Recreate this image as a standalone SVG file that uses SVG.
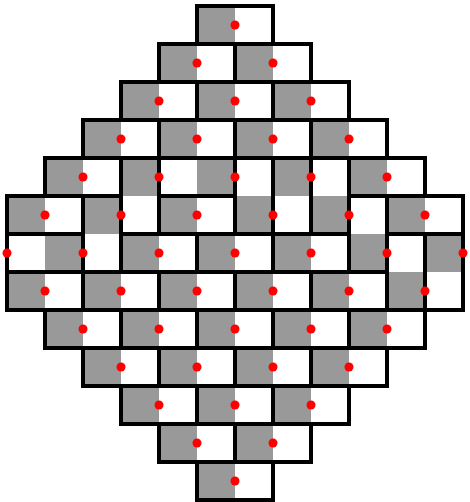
<svg xmlns="http://www.w3.org/2000/svg" xmlns:xlink="http://www.w3.org/1999/xlink" width="470" height="502" viewBox="0 0 470 502">
<style>
.g{fill:#999999}
.w{fill:#ffffff}
.o{fill:none;stroke:#000000;stroke-width:4;stroke-linejoin:miter}
.dot{fill:#ff0000}
</style>
<defs>
<g id="hg"><rect class="g" width="38" height="38"/><rect class="w" x="38" width="38" height="38"/><rect class="o" width="76" height="38"/></g>
<g id="hw"><rect class="w" width="38" height="38"/><rect class="g" x="38" width="38" height="38"/><rect class="o" width="76" height="38"/></g>
<g id="vg"><rect class="g" width="38" height="38"/><rect class="w" y="38" width="38" height="38"/><rect class="o" width="38" height="76"/></g>
<g id="vw"><rect class="w" width="38" height="38"/><rect class="g" y="38" width="38" height="38"/><rect class="o" width="38" height="76"/></g>
</defs>
<rect width="470" height="502" fill="#ffffff"/>
<g id="tiling">
<g id="d0-5"><use xlink:href="#hg" x="197" y="6"/></g>
<g id="d1-4"><use xlink:href="#hg" x="159" y="44"/></g>
<g id="d1-6"><use xlink:href="#hg" x="235" y="44"/></g>
<g id="d2-3"><use xlink:href="#hg" x="121" y="82"/></g>
<g id="d2-5"><use xlink:href="#hg" x="197" y="82"/></g>
<g id="d2-7"><use xlink:href="#hg" x="273" y="82"/></g>
<g id="d3-2"><use xlink:href="#hg" x="83" y="120"/></g>
<g id="d3-4"><use xlink:href="#hg" x="159" y="120"/></g>
<g id="d3-6"><use xlink:href="#hg" x="235" y="120"/></g>
<g id="d3-8"><use xlink:href="#hg" x="311" y="120"/></g>
<g id="d4-1"><use xlink:href="#hg" x="45" y="158"/></g>
<g id="d4-3"><use xlink:href="#vg" x="121" y="158"/></g>
<g id="d4-4"><use xlink:href="#hw" x="159" y="158"/></g>
<g id="d4-6"><use xlink:href="#vw" x="235" y="158"/></g>
<g id="d4-7"><use xlink:href="#vg" x="273" y="158"/></g>
<g id="d4-8"><use xlink:href="#vw" x="311" y="158"/></g>
<g id="d4-9"><use xlink:href="#hg" x="349" y="158"/></g>
<g id="d5-0"><use xlink:href="#hg" x="7" y="196"/></g>
<g id="d5-2"><use xlink:href="#vg" x="83" y="196"/></g>
<g id="d5-4"><use xlink:href="#hg" x="159" y="196"/></g>
<g id="d5-9"><use xlink:href="#vw" x="349" y="196"/></g>
<g id="d5-10"><use xlink:href="#hg" x="387" y="196"/></g>
<g id="d6-0"><use xlink:href="#hw" x="7" y="234"/></g>
<g id="d6-3"><use xlink:href="#hg" x="121" y="234"/></g>
<g id="d6-5"><use xlink:href="#hg" x="197" y="234"/></g>
<g id="d6-7"><use xlink:href="#hg" x="273" y="234"/></g>
<g id="d6-10"><use xlink:href="#vw" x="387" y="234"/></g>
<g id="d6-11"><use xlink:href="#vg" x="425" y="234"/></g>
<g id="d7-0"><use xlink:href="#hg" x="7" y="272"/></g>
<g id="d7-2"><use xlink:href="#hg" x="83" y="272"/></g>
<g id="d7-4"><use xlink:href="#hg" x="159" y="272"/></g>
<g id="d7-6"><use xlink:href="#hg" x="235" y="272"/></g>
<g id="d7-8"><use xlink:href="#hg" x="311" y="272"/></g>
<g id="d8-1"><use xlink:href="#hg" x="45" y="310"/></g>
<g id="d8-3"><use xlink:href="#hg" x="121" y="310"/></g>
<g id="d8-5"><use xlink:href="#hg" x="197" y="310"/></g>
<g id="d8-7"><use xlink:href="#hg" x="273" y="310"/></g>
<g id="d8-9"><use xlink:href="#hg" x="349" y="310"/></g>
<g id="d9-2"><use xlink:href="#hg" x="83" y="348"/></g>
<g id="d9-4"><use xlink:href="#hg" x="159" y="348"/></g>
<g id="d9-6"><use xlink:href="#hg" x="235" y="348"/></g>
<g id="d9-8"><use xlink:href="#hg" x="311" y="348"/></g>
<g id="d10-3"><use xlink:href="#hg" x="121" y="386"/></g>
<g id="d10-5"><use xlink:href="#hg" x="197" y="386"/></g>
<g id="d10-7"><use xlink:href="#hg" x="273" y="386"/></g>
<g id="d11-4"><use xlink:href="#hg" x="159" y="424"/></g>
<g id="d11-6"><use xlink:href="#hg" x="235" y="424"/></g>
<g id="d12-5"><use xlink:href="#hg" x="197" y="462"/></g>
</g>
<g id="dots">
<circle class="dot" cx="235" cy="25" r="4.5"/>
<circle class="dot" cx="197" cy="63" r="4.5"/><circle class="dot" cx="273" cy="63" r="4.5"/>
<circle class="dot" cx="159" cy="101" r="4.5"/><circle class="dot" cx="235" cy="101" r="4.5"/><circle class="dot" cx="311" cy="101" r="4.5"/>
<circle class="dot" cx="121" cy="139" r="4.5"/><circle class="dot" cx="197" cy="139" r="4.5"/><circle class="dot" cx="273" cy="139" r="4.5"/><circle class="dot" cx="349" cy="139" r="4.5"/>
<circle class="dot" cx="83" cy="177" r="4.5"/><circle class="dot" cx="159" cy="177" r="4.5"/><circle class="dot" cx="235" cy="177" r="4.5"/><circle class="dot" cx="311" cy="177" r="4.5"/><circle class="dot" cx="387" cy="177" r="4.5"/>
<circle class="dot" cx="45" cy="215" r="4.5"/><circle class="dot" cx="121" cy="215" r="4.5"/><circle class="dot" cx="197" cy="215" r="4.5"/><circle class="dot" cx="273" cy="215" r="4.5"/><circle class="dot" cx="349" cy="215" r="4.5"/><circle class="dot" cx="425" cy="215" r="4.5"/>
<circle class="dot" cx="7" cy="253" r="4.5"/><circle class="dot" cx="83" cy="253" r="4.5"/><circle class="dot" cx="159" cy="253" r="4.5"/><circle class="dot" cx="235" cy="253" r="4.5"/><circle class="dot" cx="311" cy="253" r="4.5"/><circle class="dot" cx="387" cy="253" r="4.5"/><circle class="dot" cx="463" cy="253" r="4.5"/>
<circle class="dot" cx="45" cy="291" r="4.5"/><circle class="dot" cx="121" cy="291" r="4.5"/><circle class="dot" cx="197" cy="291" r="4.5"/><circle class="dot" cx="273" cy="291" r="4.5"/><circle class="dot" cx="349" cy="291" r="4.5"/><circle class="dot" cx="425" cy="291" r="4.5"/>
<circle class="dot" cx="83" cy="329" r="4.5"/><circle class="dot" cx="159" cy="329" r="4.5"/><circle class="dot" cx="235" cy="329" r="4.5"/><circle class="dot" cx="311" cy="329" r="4.5"/><circle class="dot" cx="387" cy="329" r="4.5"/>
<circle class="dot" cx="121" cy="367" r="4.5"/><circle class="dot" cx="197" cy="367" r="4.5"/><circle class="dot" cx="273" cy="367" r="4.5"/><circle class="dot" cx="349" cy="367" r="4.5"/>
<circle class="dot" cx="159" cy="405" r="4.5"/><circle class="dot" cx="235" cy="405" r="4.5"/><circle class="dot" cx="311" cy="405" r="4.5"/>
<circle class="dot" cx="197" cy="443" r="4.5"/><circle class="dot" cx="273" cy="443" r="4.5"/>
<circle class="dot" cx="235" cy="481" r="4.5"/>
</g>
</svg>
